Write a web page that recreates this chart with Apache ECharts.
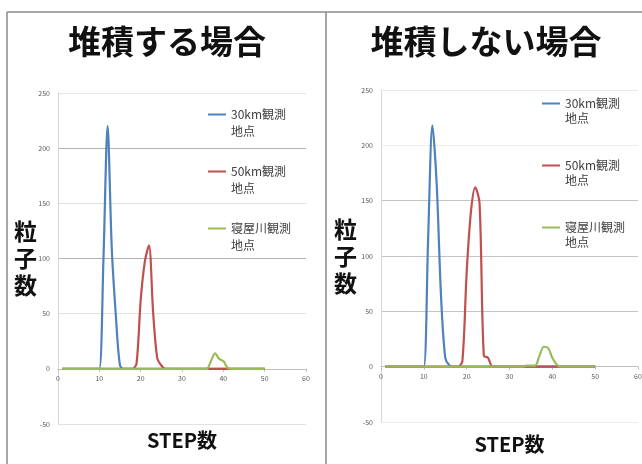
<!DOCTYPE html>
<html>
<head>
<meta charset="utf-8">
<script src="https://cdn.jsdelivr.net/npm/echarts@6/dist/echarts.min.js"></script>
<style>
  html, body { margin: 0; padding: 0; background: #ffffff; }
  #chart { width: 642px; height: 464px; }
</style>
</head>
<body>
<div id="chart"></div>
<script>
// STEP numbers along the horizontal axis
const steps = [
  1, 2, 3, 4, 5, 6, 7, 8, 9, 10,
  11, 12, 13, 14, 15, 16, 17, 18, 19, 20,
  21, 22, 23, 24, 25, 26, 27, 28, 29, 30,
  31, 32, 33, 34, 35, 36, 37, 38, 39, 40,
  41, 42, 43, 44, 45, 46, 47, 48, 49, 50
];

const stationNames = ['30km観測地点', '50km観測地点', '寝屋川観測地点'];
const panelTitles = ['堆積する場合', '堆積しない場合'];
const xAxisTitle = 'STEP数';
const yAxisTitle = '粒子数';

// axis ranges: [min, max, interval]
const xRange = [0, 60, 10];
const yRange = [-50, 250, 50];

// particle counts: with deposition
const depo30km = [
  0, 0, 0, 0, 0, 0, 0, 0, 0, 0,
  100, 220, 110, 48, 3, 0, 0, 0, 0, 0,
  0, 0, 0, 0, 0, 0, 0, 0, 0, 0,
  0, 0, 0, 0, 0, 0, 0, 0, 0, 0,
  0, 0, 0, 0, 0, 0, 0, 0, 0, 0
];
const depo50km = [
  0, 0, 0, 0, 0, 0, 0, 0, 0, 0,
  0, 0, 0, 0, 0, 0, 0, 0, 5, 62,
  97, 112, 52, 10, 3, 0, 0, 0, 0, 0,
  0, 0, 0, 0, 0, 0, 0, 0, 0, 0,
  0, 0, 0, 0, 0, 0, 0, 0, 0, 0
];
const depoNeyagawa = [
  0, 0, 0, 0, 0, 0, 0, 0, 0, 0,
  0, 0, 0, 0, 0, 0, 0, 0, 0, 0,
  0, 0, 0, 0, 0, 0, 0, 0, 0, 0,
  0, 0, 0, 0, 0, 0, 7, 14, 9, 7,
  1, 0, 0, 0, 0, 0, 0, 0, 0, 0
];

// particle counts: without deposition
const noDepo30km = [
  0, 0, 0, 0, 0, 0, 0, 0, 0, 0,
  115, 218, 165, 65, 8, 1, 0, 0, 0, 0,
  0, 0, 0, 0, 0, 0, 0, 0, 0, 0,
  0, 0, 0, 0, 0, 0, 0, 0, 0, 0,
  0, 0, 0, 0, 0, 0, 0, 0, 0, 0
];
const noDepo50km = [
  0, 0, 0, 0, 0, 0, 0, 0, 0, 0,
  0, 0, 0, 0, 0, 0, 0, 0, 5, 85,
  140, 162, 148, 10, 8, 0, 0, 0, 0, 0,
  0, 0, 0, 0, 0, 0, 0, 0, 0, 0,
  0, 0, 0, 0, 0, 0, 0, 0, 0, 0
];
const noDepoNeyagawa = [
  0, 0, 0, 0, 0, 0, 0, 0, 0, 0,
  0, 0, 0, 0, 0, 0, 0, 0, 0, 0,
  0, 0, 0, 0, 0, 0, 0, 0, 0, 0,
  0, 0, 0, 1, 1, 1, 10, 18, 17, 8,
  2, 0, 0, 0, 0, 0, 0, 0, 0, 0
];

const FONT = '"Noto Sans CJK JP", "Noto Sans", sans-serif';
const lineColors = ['#4F81BD', '#C0504D', '#9BBB59'];

const panels = [
  {
    values: [depo30km, depo50km, depoNeyagawa],
    grid: { left: 58, top: 93, width: 248, height: 331 },
    gridLineColors: ['#e2e2e2', '#bdbdbd', '#e2e2e2', '#b2b2b2', '#e2e2e2', '#b2b2b2', '#e6e6e6'],
    yNameGap: 21, xNameGap: 62,
    legend: { left: 208, top: 89, lineHeight: 17, itemGap: 6 }
  },
  {
    values: [noDepo30km, noDepo50km, noDepoNeyagawa],
    grid: { left: 381, top: 90, width: 257, height: 332 },
    gridLineColors: ['#eeeeee', '#c4c4c4', '#c4c4c4', '#c4c4c4', '#c4c4c4', '#eeeeee', '#e8e8e8'],
    yNameGap: 24, xNameGap: 68,
    legend: { left: 542, top: 81, lineHeight: 15, itemGap: 17 }
  }
];

const toPairs = arr => steps.map((s, i) => [s, arr[i]]);

// lift the horizontal axis (line, ticks, labels, name) up to the y = 0 level
const zeroOffset = g => -g.height * (0 - yRange[0]) / (yRange[1] - yRange[0]);

const option = {
  animation: false,
  color: lineColors,
  textStyle: { fontFamily: FONT },
  grid: panels.map(p => Object.assign({ outerBoundsMode: 'none', containLabel: false }, p.grid)),
  xAxis: panels.map((p, k) => ({
    type: 'value',
    gridIndex: k,
    position: 'bottom',
    offset: zeroOffset(p.grid),
    min: xRange[0], max: xRange[1], interval: xRange[2],
    name: xAxisTitle,
    nameLocation: 'middle',
    nameGap: p.xNameGap,
    nameMoveOverlap: false,
    nameTextStyle: { fontFamily: FONT, fontSize: 20, fontWeight: 'bold', color: '#111' },
    axisLine: { onZero: false, lineStyle: { color: '#bfbfbf', width: 1 } },
    axisTick: { show: true, length: 3, lineStyle: { color: '#bfbfbf' } },
    axisLabel: { fontSize: 7, color: '#595959', margin: 6 },
    splitLine: { show: false }
  })),
  yAxis: panels.map((p, k) => ({
    type: 'value',
    gridIndex: k,
    min: yRange[0], max: yRange[1], interval: yRange[2],
    name: yAxisTitle.split('').join('\n'),
    nameLocation: 'middle',
    nameRotate: 0,
    nameGap: p.yNameGap,
    nameMoveOverlap: false,
    nameTextStyle: { fontFamily: FONT, fontSize: 23, fontWeight: 'bold', color: '#111', lineHeight: 27 },
    axisLine: { show: true, onZero: false, lineStyle: { color: '#d6d6d6', width: 1 } },
    axisTick: { show: false },
    axisLabel: { fontSize: 7, color: '#595959', margin: 8 },
    splitLine: { show: true, lineStyle: { color: p.gridLineColors, width: 1.2 } }
  })),
  legend: panels.map(p => ({
    orient: 'vertical',
    left: p.legend.left,
    top: p.legend.top,
    padding: 0,
    itemGap: p.legend.itemGap,
    itemWidth: 18,
    itemHeight: 2,
    icon: 'rect',
    data: stationNames,
    formatter: name => '\n' + name.replace('地点', '\n地点'),
    textStyle: { fontFamily: FONT, fontSize: 12, color: '#404040', lineHeight: p.legend.lineHeight }
  })),
  graphic: [
    // frame around the two panels
    { type: 'line', shape: { x1: 7, y1: 12, x2: 642, y2: 12 }, style: { stroke: '#8a8a8a', lineWidth: 1.5 } },
    { type: 'line', shape: { x1: 7, y1: 12, x2: 7, y2: 464 }, style: { stroke: '#8a8a8a', lineWidth: 1.5 } },
    { type: 'line', shape: { x1: 326, y1: 12, x2: 326, y2: 464 }, style: { stroke: '#8a8a8a', lineWidth: 1.5 } },
    // panel headings
    {
      type: 'text', x: 167, y: 41,
      style: { text: panelTitles[0], font: 'bold 33px ' + FONT, fill: '#111', textAlign: 'center', textVerticalAlign: 'middle' }
    },
    {
      type: 'text', x: 486, y: 41,
      style: { text: panelTitles[1], font: 'bold 33px ' + FONT, fill: '#111', textAlign: 'center', textVerticalAlign: 'middle' }
    }
  ],
  series: []
};

panels.forEach((p, k) => {
  p.values.forEach((vals, j) => {
    option.series.push({
      type: 'line',
      name: stationNames[j],
      xAxisIndex: k,
      yAxisIndex: k,
      data: toPairs(vals),
      smooth: 0.3,
      showSymbol: false,
      symbol: 'none',
      lineStyle: { width: 2.2, color: lineColors[j] },
      itemStyle: { color: lineColors[j] },
      z: 2 + j
    });
  });
});

const chart = echarts.init(document.getElementById('chart'), null, { renderer: 'canvas' });
chart.setOption(option);
</script>
</body>
</html>
